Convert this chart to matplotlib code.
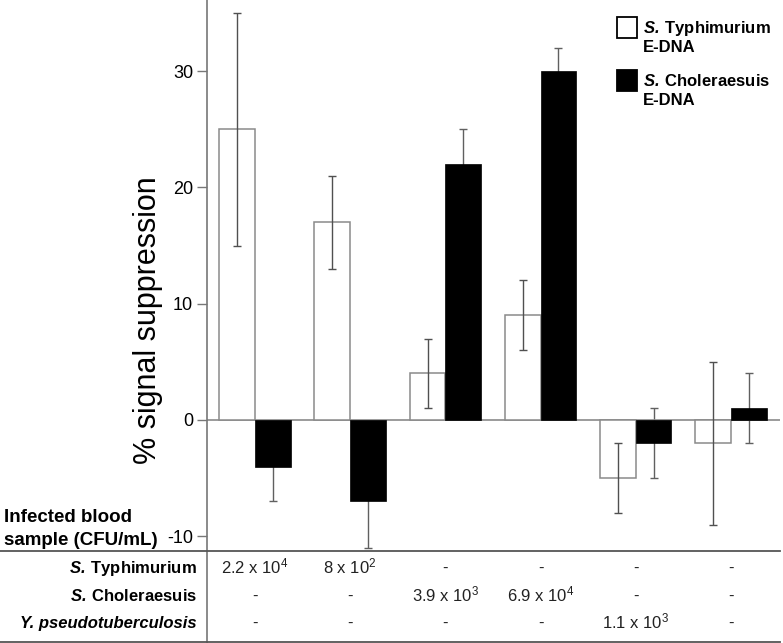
import numpy as np
import matplotlib
matplotlib.use("Agg")
import matplotlib.pyplot as plt
from matplotlib import transforms
from matplotlib.lines import Line2D
from matplotlib.patches import Rectangle

# ==== Data ====
groups = np.arange(6)
typhi_edna = [25, 17, 4, 9, -5, -2]
typhi_err = [10, 4, 3, 3, 3, 7]
chol_edna = [-4, -7, 22, 30, -2, 1]
chol_err = [3, 4, 3, 2, 3, 3]

legend_labels = [(r"$\mathbfit{S.}\:$Typhimurium", "E-DNA"),
                 (r"$\mathbfit{S.}\:$Choleraesuis", "E-DNA")]
row_labels = [r"$\mathbfit{S.}\:$Typhimurium",
              r"$\mathbfit{S.}\:$Choleraesuis",
              "Y. pseudotuberculosis"]
row_italic = [False, False, True]
row_typhi = ["2.2 x 10$^4$", "8 x 10$^2$", "-", "-", "-", "-"]
row_chol = ["-", "-", "3.9 x 10$^3$", "6.9 x 10$^4$", "-", "-"]
row_yps = ["-", "-", "-", "-", "1.1 x 10$^3$", "-"]
yticks = [-10, 0, 10, 20, 30]

plt.rcParams["font.family"] = ["Liberation Sans", "DejaVu Sans"]
plt.rcParams["axes.unicode_minus"] = False
plt.rcParams["mathtext.fontset"] = "custom"
plt.rcParams["mathtext.rm"] = "Liberation Sans"
plt.rcParams["mathtext.it"] = "Liberation Sans:italic"
plt.rcParams["mathtext.bf"] = "Liberation Sans:bold"
plt.rcParams["mathtext.bfit"] = "Liberation Sans:italic:bold"

W, H = 783, 643
fig = plt.figure(figsize=(W / 100, H / 100), dpi=100)

def fx(px):
    return px / W

def fy(py):
    return 1 - py / H

ax = fig.add_axes([fx(207), 0, fx(780) - fx(207), 1])

bw = 0.375
ax.bar(groups - bw / 2, typhi_edna, bw, color="white", edgecolor="#8a8a8a", linewidth=1.1, zorder=2)
ax.bar(groups + bw / 2, chol_edna, bw, color="black", edgecolor="black", linewidth=0.5, zorder=2)
ax.errorbar(groups - bw / 2, typhi_edna, yerr=typhi_err, fmt="none", ecolor="#505050",
            elinewidth=1, capsize=3, capthick=1, zorder=3)
ax.errorbar(groups + bw / 2, chol_edna, yerr=chol_err, fmt="none", ecolor="#606060",
            elinewidth=1, capsize=3, capthick=1, zorder=1)
ax.axhline(0, color="#8a8a8a", linewidth=1.2, zorder=1.5)

ax.set_xlim(-0.504, 5.515)
ax.set_ylim(-(H - 420) / 11.63, 420 / 11.63)
ax.set_xticks([])
ax.set_yticks(yticks)
ax.tick_params(axis="y", length=7, width=1, color="#777777", pad=3, labelsize=13)
for s in ["top", "right", "bottom"]:
    ax.spines[s].set_visible(False)
ax.spines["left"].set_color("#777777")
ax.spines["left"].set_linewidth(1.2)

ax.set_ylabel("% signal suppression", fontsize=22)
ax.yaxis.set_label_coords((163 - 207) / 573, 1 - 320 / H)

# legend drawn by hand to keep the two-line labels aligned with the swatch
for i, (fc, (l1, l2)) in enumerate(zip(["white", "black"], legend_labels)):
    top = 17 + 53 * i
    fig.patches.append(Rectangle((fx(617), fy(top + 21)), fx(20), 21 / H, facecolor=fc,
                                 edgecolor="black", linewidth=1.3, transform=fig.transFigure))
    fig.text(fx(643), fy(top + 16), l1, fontsize=12, fontweight="bold", va="baseline")
    fig.text(fx(643), fy(top + 35), l2, fontsize=12, fontweight="bold", va="baseline")

# table under the chart
for y in [551, 642]:
    fig.add_artist(Line2D([0, fx(780)], [fy(y), fy(y)], color="#555555", linewidth=1.3))

fig.text(fx(4), fy(522), "Infected blood", fontsize=13.5, fontweight="bold", va="baseline")
fig.text(fx(4), fy(545), "sample (CFU/mL)", fontsize=13.5, fontweight="bold", va="baseline")

trans = transforms.blended_transform_factory(ax.transData, fig.transFigure)
baselines = [573, 601, 628]
for lab, ital, row, b in zip(row_labels, row_italic, [row_typhi, row_chol, row_yps], baselines):
    fig.text(fx(197), fy(b), lab, fontsize=12, fontweight="bold",
             fontstyle="italic" if ital else "normal", ha="right", va="baseline")
    for g, val in zip(groups, row):
        ax.text(g, fy(b), val, transform=trans, fontsize=12, ha="center", va="baseline",
                color="#222222", clip_on=False)

fig.savefig("out.png", dpi=100)
